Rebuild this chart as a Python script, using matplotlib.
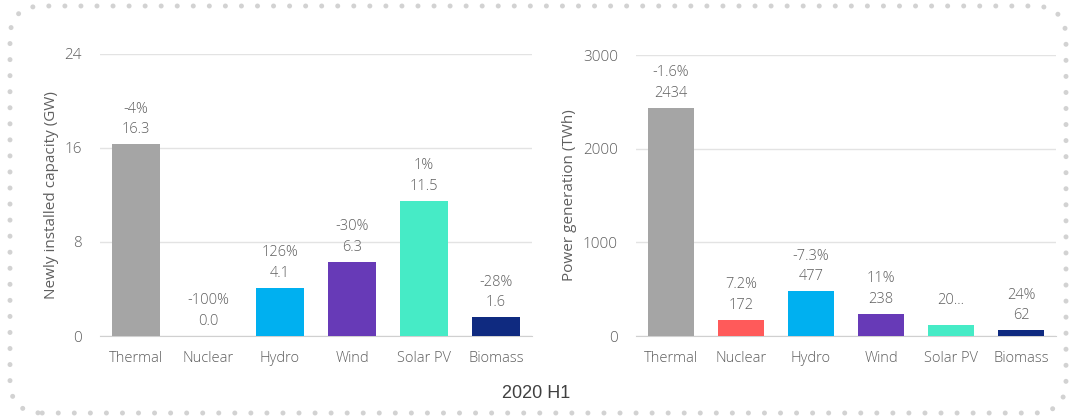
import matplotlib.pyplot as plt
from matplotlib.patches import FancyBboxPatch

sources = ['Thermal', 'Nuclear', 'Hydro', 'Wind', 'Solar PV', 'Biomass']
colors = ['#A5A5A5', '#FF5A5A', '#00B0F0', '#673AB7', '#46EBC6', '#0F2A80']

capacity_gw = [16.3, 0.0, 4.1, 6.3, 11.5, 1.6]
capacity_change = ['-4%', '-100%', '126%', '-30%', '1%', '-28%']

generation_twh = [2434, 172, 477, 238, 117, 62]
generation_change = ['-1.6%', '7.2%', '-7.3%', '11%', '20...', '24%']
generation_text = ['2434', '172', '477', '238', '', '62']

plt.rcParams['font.family'] = ['Open Sans', 'DejaVu Sans']
plt.rcParams['font.weight'] = 'light'
text_color = '#5F5F5F'
grid_color = '#E3E3E3'


def draw_panel(ax, values, changes, texts, ticks, ylabel):
    ax.bar(sources, values, color=colors, width=0.66, zorder=3)
    ax.set_ylim(ticks[0], ticks[-1])
    ax.set_xlim(-0.5, len(sources) - 0.5)
    ax.set_yticks(ticks)
    ax.grid(axis='y', color=grid_color, linewidth=1, zorder=0)
    for side in ['top', 'right', 'left']:
        ax.spines[side].set_visible(False)
    ax.spines['bottom'].set_color('#D0D0D0')
    ax.tick_params(length=0, labelsize=10.5, colors=text_color, pad=11)
    ax.tick_params(axis='y', pad=13, labelsize=11)
    ax.set_ylabel(ylabel, fontsize=11, color=text_color, labelpad=4)
    for i, (v, c, t) in enumerate(zip(values, changes, texts)):
        if t:
            ax.annotate(t, (i, v), xytext=(0, 5), textcoords='offset points',
                        ha='center', va='bottom', fontsize=10.5, color=text_color)
            ax.annotate(c, (i, v), xytext=(0, 20), textcoords='offset points',
                        ha='center', va='bottom', fontsize=10.5, color=text_color)
        else:
            ax.annotate(c, (i, v), xytext=(0, 12), textcoords='offset points',
                        ha='center', va='bottom', fontsize=10.5, color=text_color)


fig = plt.figure(figsize=(10.73, 4.17), dpi=100)

ax1 = fig.add_axes([0.0932, 0.194, 0.4026, 0.677])
draw_panel(ax1, capacity_gw, capacity_change, [f'{v:.1f}' for v in capacity_gw],
           [0, 8, 16, 24], 'Newly installed capacity (GW)')

ax2 = fig.add_axes([0.5927, 0.194, 0.3915, 0.674])
draw_panel(ax2, generation_twh, generation_change, generation_text,
           [0, 1000, 2000, 3000], 'Power generation (TWh)')

fig.text(0.5, 0.057, '2020 H1', ha='center', va='center', fontsize=13,
         color='#404040', fontweight='normal',
         family=['Liberation Sans', 'DejaVu Sans'])

# dotted rounded frame around both panels
frame = FancyBboxPatch((10 / 1073, 4 / 417), 1056 / 1073, 407 / 417,
                       boxstyle='round,pad=0,rounding_size=0.03',
                       transform=fig.transFigure, fill=False,
                       edgecolor='#D2D2D2', linewidth=3.6,
                       linestyle=(0, (0.01, 3.2)), mutation_aspect=2.57)
frame.set_capstyle('round')
fig.patches.append(frame)

fig.savefig('out.png', dpi=100)
